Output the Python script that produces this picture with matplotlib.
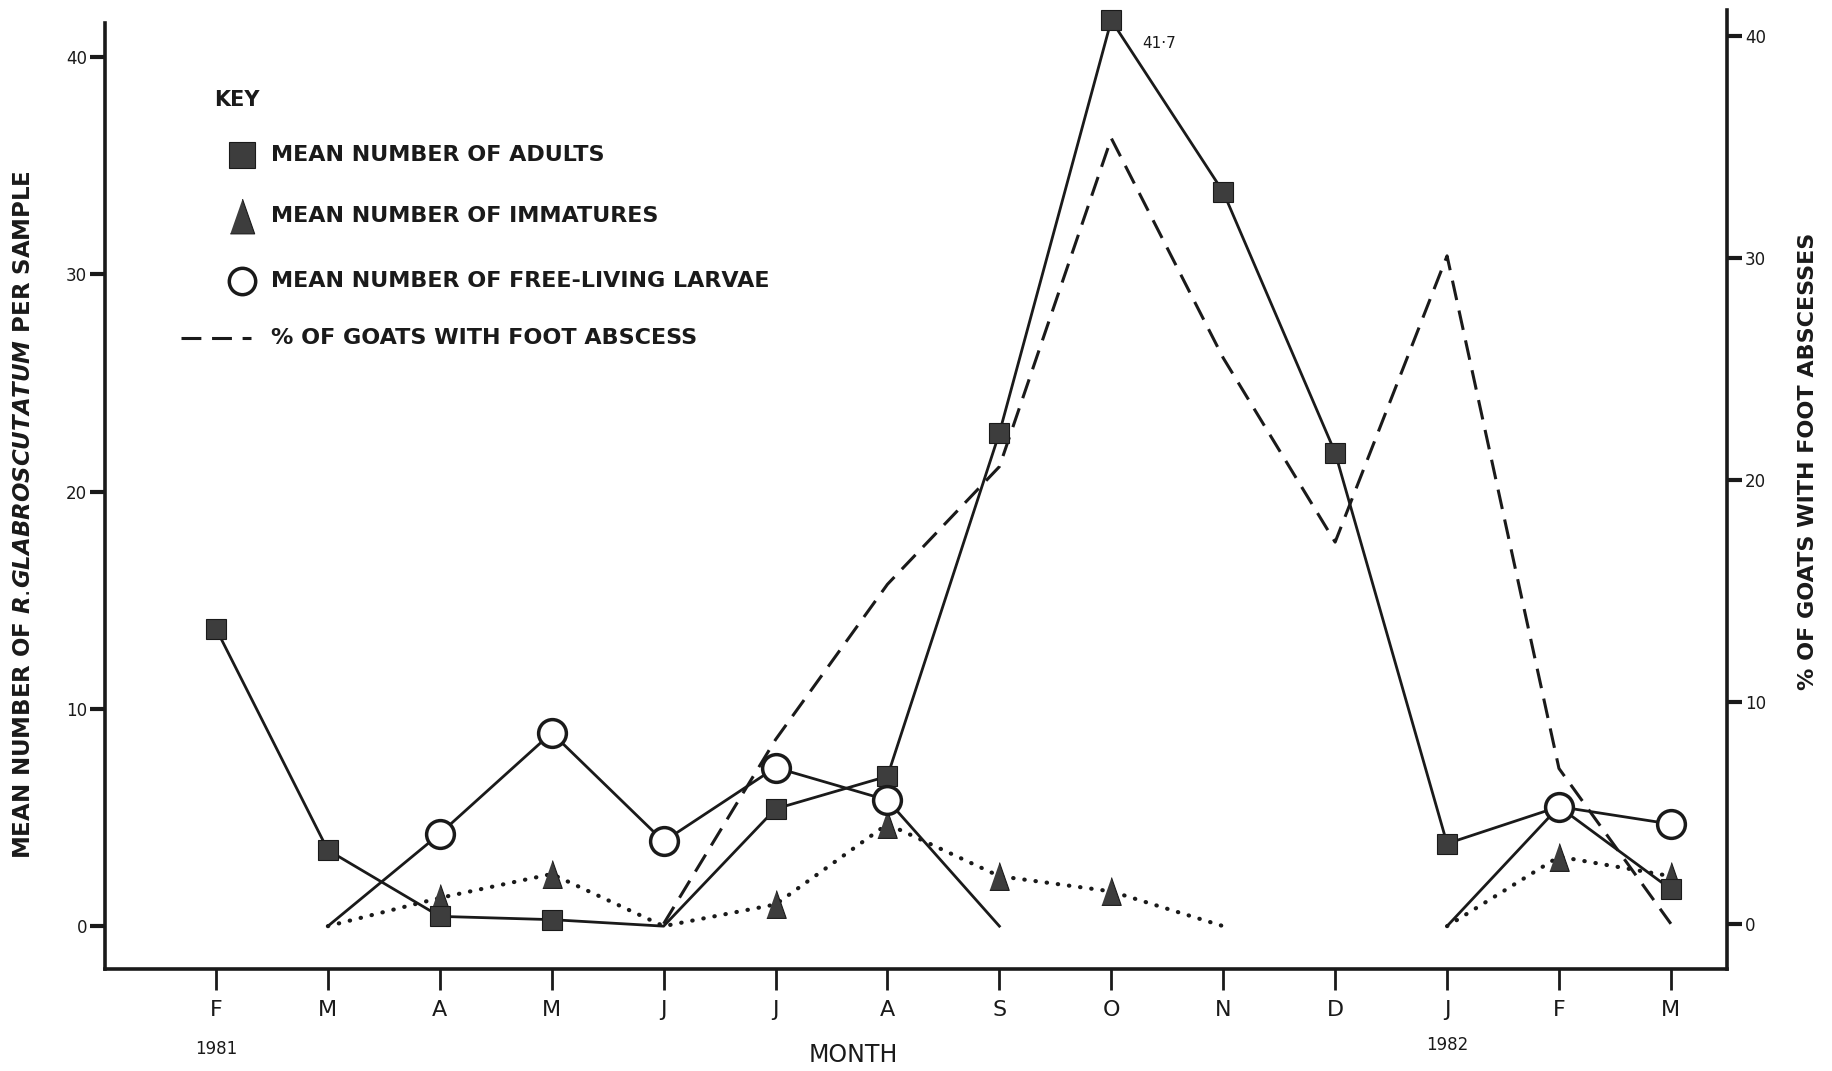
import numpy as np
import matplotlib.pyplot as plt
from matplotlib.lines import Line2D
from matplotlib.transforms import blended_transform_factory

plt.rcParams['font.family'] = 'DejaVu Sans'
plt.rcParams['mathtext.fontset'] = 'custom'
plt.rcParams['mathtext.it'] = 'DejaVu Sans:italic:bold'

# dados (Fev 1981 - Mar 1982)
months = ['F', 'M', 'A', 'M', 'J', 'J', 'A', 'S', 'O', 'N', 'D', 'J', 'F', 'M']
year_labels = ['1981', '1982']
year_idx = [0, 11]

nan = np.nan
adults = [13.7, 3.5, 0.45, 0.3, 0, 5.4, 6.9, 22.7, 41.7, 33.8, 21.8, 3.8, 5.5, 1.7]
immatures = [nan, 0, 1.3, 2.4, 0, 1.0, 4.7, 2.3, 1.6, 0, nan, 0, 3.2, 2.3]
larvae = [nan, 0, 4.25, 8.9, 3.9, 7.3, 5.8, 0, nan, nan, nan, 0, 5.5, 4.7]
goats_abscess = [nan, nan, nan, nan, 0, 8.3, 15.3, 20.6, 35.4, 25.5, 17.2, 30.1, 7.0, 0]

ink = '#1a1a1a'
fill = '#3d3d3d'
tri = [(-0.7, -1), (0.7, -1), (0, 1)]

fig = plt.figure(figsize=(18.32, 10.71), dpi=100)
ax = fig.add_axes([0.0574, 0.0949, 0.8852, 0.9051])
ax2 = ax.twinx()
ax.set_zorder(ax2.get_zorder() + 1)
ax.patch.set_visible(False)

x = np.arange(len(months))

# % de cabras com abcesso (eixo direito)
ax2.plot(x, goats_abscess, color=ink, lw=2.2, dashes=(6.5, 3.5))

def serie(vals, ls, mk, ms, fc, mew, z):
    v = np.array(vals, dtype=float)
    if ls == 'dot':
        ax.plot(x, v, color=ink, lw=3, linestyle=(0, (0.1, 2.6)),
                dash_capstyle='round', zorder=z)
    else:
        ax.plot(x, v, color=ink, lw=2, zorder=z)
    m = v > 0
    ax.plot(x[m], v[m], ls='none', marker=mk, ms=ms, mfc=fc, mec=ink,
            mew=mew, zorder=z + 1, clip_on=False)

serie(immatures, 'dot', tri, 20, fill, 0.8, 2)
serie(adults, 'solid', 's', 15, fill, 0.8, 3)
serie(larvae, 'solid', 'o', 20, 'white', 2.5, 5)

ax.annotate('41·7', (8, 41.7), xytext=(22, -17), textcoords='offset points',
            fontsize=11, color=ink, va='center', ha='left')

# eixos
ax.set_xlim(-0.99, 13.5)
ax.set_ylim(-1.989, 42.634)
ax2.set_ylim(-2.053, 41.63)

for a in (ax, ax2):
    a.spines['top'].set_visible(False)
ax.spines['right'].set_visible(False)
ax2.spines['left'].set_visible(False)
ax2.spines['bottom'].set_visible(False)
ax.spines['left'].set_bounds(-1.989, 41.56)
ax2.spines['right'].set_bounds(-2.053, 41.2)
for s in ('left', 'bottom'):
    ax.spines[s].set_linewidth(2.6)
    ax.spines[s].set_color(ink)
ax2.spines['right'].set_linewidth(2.6)
ax2.spines['right'].set_color(ink)

ax.set_xticks(x, months)
ax.set_yticks([0, 10, 20, 30, 40])
ax2.set_yticks([0, 10, 20, 30, 40])
ax.tick_params(axis='x', direction='out', length=15, width=2, pad=7,
               labelsize=16, colors=ink)
ax.tick_params(axis='y', direction='out', length=11, width=3, pad=2,
               labelsize=12, colors=ink)
ax2.tick_params(axis='y', direction='out', length=11, width=3, pad=2,
                labelsize=12, colors=ink)

# anos e títulos
tr = blended_transform_factory(ax.transData, fig.transFigure)
for yl, i, yy in zip(year_labels, year_idx, [0.021, 0.024]):
    ax.text(i, yy, yl, transform=tr, ha='center', va='center', fontsize=12, color=ink)

fig.text(0.4656, 0.0153, 'MONTH', ha='center', va='center', fontsize=17, color=ink)
fig.text(0.0128, 0.52, 'MEAN NUMBER OF $\\mathit{R.\\!GLABROSCUTATUM}$ PER SAMPLE',
         rotation=90, ha='center', va='center', fontsize=16.5, fontweight='bold', color=ink)
fig.text(0.987, 0.569, '% OF GOATS WITH FOOT ABSCESSES', rotation=90,
         ha='center', va='center', fontsize=16, fontweight='bold', color=ink)

# legenda (KEY)
fig.text(0.1167, 0.907, 'KEY', ha='left', va='center', fontsize=15,
         fontweight='bold', color=ink)
key_x = 0.132
key_y = [0.855, 0.798, 0.738, 0.684]
key_txt = ['MEAN NUMBER OF ADULTS', 'MEAN NUMBER OF IMMATURES',
           'MEAN NUMBER OF FREE-LIVING LARVAE', '% OF GOATS WITH FOOT ABSCESS']
fig.add_artist(Line2D([key_x], [key_y[0]], transform=fig.transFigure, ls='none',
                      marker='s', ms=19, mfc=fill, mec=ink, mew=0.8))
fig.add_artist(Line2D([key_x], [key_y[1]], transform=fig.transFigure, ls='none',
                      marker=tri, ms=25, mfc=fill, mec=ink, mew=0.8))
fig.add_artist(Line2D([key_x], [key_y[2]], transform=fig.transFigure, ls='none',
                      marker='o', ms=19, mfc='white', mec=ink, mew=2.5))
fig.add_artist(Line2D([0.0989, 0.137], [key_y[3], key_y[3]], transform=fig.transFigure,
                      color=ink, lw=2.2, dashes=(6.5, 3.5)))
for yy, t in zip(key_y, key_txt):
    fig.text(0.148, yy, t, ha='left', va='center', fontsize=16,
             fontweight='bold', color=ink)

fig.savefig('out.png', dpi=100)
plt.close(fig)
